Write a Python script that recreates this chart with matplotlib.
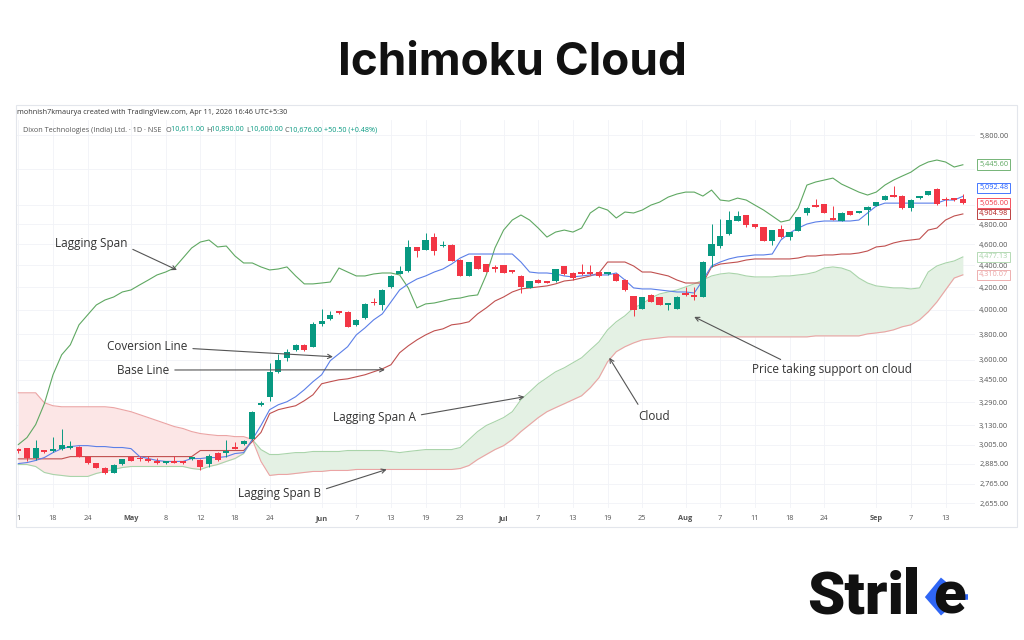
import numpy as np
import matplotlib.pyplot as plt
import matplotlib.transforms as mtransforms
from matplotlib.patches import Rectangle
from matplotlib.lines import Line2D
from matplotlib.ticker import NullLocator

W, H = 1024, 640

# daily candles (trading-day index 0..109)
opens = [2975, 2982, 2920, 2970, 2967, 2977, 2982, 2988, 2930, 2888,
         2862, 2832, 2884, 2930, 2918, 2913, 2897, 2888, 2903, 2894,
         2913, 2909, 2884, 2955, 2951, 2984, 3009, 3040, 3268, 3328,
         3508, 3613, 3675, 3712, 3700, 3884, 3925, 3990, 3983, 3875,
         3932, 4062, 4045, 4200, 4320, 4345, 4570, 4545, 4675, 4578,
         4595, 4450, 4300, 4485, 4410, 4368, 4400, 4342, 4300, 4195,
         4263, 4250, 4250, 4390, 4330, 4322, 4322, 4335, 4318, 4320,
         4263, 4120, 4010, 4130, 4110, 4043, 4010, 4146, 4130, 4115,
         4490, 4580, 4700, 4835, 4890, 4800, 4770, 4635, 4755, 4675,
         4735, 4915, 4995, 5005, 4858, 4835, 4935, 4920, 4945, 4990,
         5055, 5110, 5100, 4970, 5070, 5110, 5175, 5055, 5058, 5065]
closes = [2965, 2920, 2982, 2957, 2976, 3003, 2990, 2930, 2892, 2862,
          2832, 2878, 2913, 2905, 2912, 2901, 2893, 2901, 2893, 2890,
          2917, 2865, 2936, 2909, 2962, 2980, 3030, 3224, 3280, 3508,
          3597, 3657, 3710, 3676, 3880, 3910, 3960, 3975, 3860, 3916,
          4050, 4056, 4175, 4300, 4345, 4570, 4530, 4641, 4530, 4584,
          4440, 4300, 4425, 4365, 4340, 4362, 4330, 4338, 4200, 4250,
          4240, 4237, 4360, 4315, 4285, 4318, 4318, 4300, 4322, 4255,
          4170, 4000, 4110, 4070, 4045, 4048, 4115, 4130, 4115, 4430,
          4600, 4680, 4842, 4880, 4790, 4770, 4635, 4740, 4670, 4720,
          4870, 4970, 4978, 4920, 4842, 4920, 4895, 4935, 4980, 5030,
          5100, 5090, 4970, 5055, 5095, 5150, 5005, 5048, 5052, 5020]
highs = [2985, 2985, 3035, 2972, 3052, 3110, 3030, 2995, 2935, 2892,
         2866, 2882, 2918, 2935, 2935, 2935, 2920, 2905, 2935, 2900,
         2925, 2912, 2945, 2960, 3035, 3024, 3035, 3230, 3295, 3572,
         3640, 3680, 3720, 3718, 3900, 4010, 3990, 3995, 3988, 3922,
         4060, 4105, 4185, 4310, 4390, 4641, 4575, 4715, 4715, 4630,
         4600, 4455, 4430, 4490, 4415, 4400, 4405, 4350, 4305, 4255,
         4268, 4255, 4365, 4395, 4335, 4412, 4400, 4340, 4330, 4325,
         4268, 4125, 4115, 4135, 4115, 4058, 4120, 4200, 4200, 4440,
         4800, 4850, 4935, 4935, 4895, 4805, 4775, 4745, 4790, 4725,
         4875, 4975, 5060, 5010, 4990, 4925, 4940, 4940, 4985, 5035,
         5105, 5200, 5105, 5060, 5100, 5155, 5180, 5085, 5065, 5120]
lows = [2955, 2905, 2910, 2952, 2960, 2970, 2975, 2925, 2885, 2858,
        2825, 2828, 2880, 2900, 2900, 2896, 2885, 2884, 2888, 2885,
        2906, 2845, 2865, 2905, 2930, 2976, 3005, 3035, 3260, 3295,
        3500, 3590, 3668, 3670, 3695, 3870, 3920, 3970, 3855, 3870,
        3925, 4045, 4000, 4195, 4315, 4340, 4480, 4540, 4500, 4570,
        4435, 4295, 4295, 4360, 4335, 4340, 4325, 4330, 4146, 4190,
        4236, 4232, 4245, 4310, 4260, 4310, 4312, 4290, 4310, 4250,
        4165, 3950, 4005, 4065, 4040, 4000, 4005, 4120, 4090, 4110,
        4380, 4560, 4690, 4830, 4770, 4765, 4630, 4590, 4665, 4640,
        4730, 4890, 4975, 4915, 4838, 4830, 4890, 4915, 4790, 4985,
        5050, 5085, 4960, 4940, 5065, 5105, 5000, 4985, 5045, 5015]

# ichimoku lines, one value per bar
conversion = [2887, 2893, 2906, 2924, 2955, 2980, 2993, 2999, 2999, 2993,
              2993, 2987, 2987, 2980, 2930, 2918, 2906, 2900, 2900, 2900,
              2918, 2918, 2924, 2924, 2930, 2949, 2955, 3038, 3130, 3237,
              3271, 3292, 3327, 3377, 3435, 3486, 3592, 3645, 3700, 3794,
              3851, 3917, 3967, 4069, 4174, 4228, 4272, 4300, 4336, 4364,
              4410, 4467, 4505, 4505, 4505, 4505, 4505, 4505, 4429, 4336,
              4327, 4327, 4318, 4300, 4291, 4300, 4309, 4309, 4309, 4327,
              4263, 4192, 4183, 4183, 4174, 4165, 4156, 4156, 4147, 4263,
              4392, 4429, 4458, 4477, 4486, 4496, 4496, 4505, 4641, 4710,
              4760, 4801, 4822, 4832, 4832, 4832, 4832, 4842, 4915, 4988,
              5019, 5019, 5019, 5019, 5019, 5019, 5019, 5052, 5052, 5092]
base = [2916, 2916, 2916, 2916, 2916, 2916, 2930, 2930, 2930, 2930,
        2930, 2930, 2930, 2930, 2930, 2930, 2930, 2930, 2930, 2930,
        2930, 2968, 2968, 2968, 2968, 2968, 2968, 3025, 3084, 3210,
        3237, 3251, 3264, 3299, 3341, 3420, 3435, 3449, 3456, 3471,
        3486, 3508, 3530, 3561, 3653, 3707, 3754, 3794, 3827, 3843,
        3876, 3885, 3901, 3967, 4018, 4077, 4112, 4156, 4183, 4192,
        4201, 4210, 4228, 4254, 4263, 4281, 4300, 4327, 4429, 4429,
        4429, 4392, 4336, 4336, 4318, 4300, 4263, 4236, 4236, 4236,
        4383, 4410, 4420, 4429, 4448, 4458, 4458, 4458, 4458, 4458,
        4467, 4486, 4486, 4496, 4496, 4505, 4505, 4515, 4534, 4573,
        4582, 4612, 4631, 4641, 4651, 4740, 4760, 4842, 4884, 4905]
lagging = [3006, 3051, 3136, 3278, 3486, 3637, 3715, 3876, 3959, 4043,
           4086, 4112, 4156, 4174, 4219, 4263, 4309, 4336, 4373, 4467,
           4563, 4621, 4641, 4573, 4582, 4486, 4420, 4420, 4383, 4355,
           4364, 4383, 4300, 4228, 4228, 4236, 4245, 4373, 4336, 4300,
           4300, 4318, 4327, 4327, 4309, 4192, 4018, 4052, 4060, 4077,
           4095, 4103, 4121, 4130, 4309, 4563, 4740, 4842, 4894, 4842,
           4760, 4670, 4720, 4740, 4720, 4760, 4915, 4977, 4946, 4863,
           4925, 4915, 4946, 4998, 5030, 5084, 5117, 5138, 5138, 5095,
           5160, 5052, 5041, 5073, 5052, 4998, 4946, 4884, 4822, 4842,
           4967, 5215, 5249, 5271, 5293, 5226, 5182, 5138, 5106, 5138,
           5215, 5271, 5316, 5360, 5430, 5477, 5500, 5477, 5419, 5445]
span_a = [2881, 2881, 2869, 2833, 2821, 2815, 2809, 2809, 2809, 2827,
          2839, 2851, 2863, 2869, 2869, 2869, 2869, 2869, 2869, 2869,
          2857, 2851, 2869, 2881, 2900, 2918, 2949, 3038, 2974, 2943,
          2943, 2949, 2955, 2955, 2962, 2962, 2962, 2962, 2968, 2968,
          2968, 2968, 2968, 2962, 2955, 2962, 2968, 2974, 2974, 2974,
          2974, 2987, 3038, 3090, 3130, 3156, 3183, 3223, 3306, 3362,
          3420, 3464, 3508, 3538, 3576, 3614, 3676, 3738, 3835, 3901,
          3951, 4018, 4052, 4103, 4139, 4156, 4174, 4201, 4228, 4263,
          4300, 4318, 4327, 4318, 4300, 4291, 4291, 4291, 4300, 4300,
          4309, 4318, 4336, 4373, 4383, 4373, 4345, 4281, 4236, 4210,
          4201, 4192, 4192, 4183, 4192, 4336, 4392, 4420, 4439, 4477]
span_b = [3355, 3355, 3355, 3285, 3264, 3257, 3257, 3257, 3257, 3257,
          3257, 3251, 3237, 3223, 3203, 3183, 3163, 3143, 3123, 3110,
          3090, 3077, 3070, 3064, 3064, 3057, 3057, 3038, 2900, 2815,
          2821, 2821, 2827, 2833, 2839, 2839, 2845, 2845, 2845, 2851,
          2851, 2851, 2851, 2851, 2851, 2851, 2851, 2851, 2851, 2851,
          2851, 2857, 2875, 2912, 2943, 2974, 2999, 3038, 3090, 3136,
          3183, 3223, 3251, 3278, 3306, 3334, 3391, 3464, 3584, 3661,
          3700, 3730, 3754, 3762, 3770, 3778, 3778, 3778, 3778, 3778,
          3778, 3778, 3778, 3778, 3778, 3778, 3778, 3778, 3778, 3778,
          3778, 3778, 3786, 3786, 3786, 3786, 3786, 3786, 3802, 3810,
          3819, 3835, 3860, 3876, 3917, 3984, 4069, 4174, 4281, 4310]

price_ticks = [5800, 5400, 5000, 4800, 4600, 4400, 4200, 4000, 3800, 3600,
               3450, 3290, 3130, 3005, 2885, 2765, 2655]
# labels hidden behind the price tags in the original
hidden_ticks = [5400, 5000]
date_ticks = [0, 4, 8, 13, 17, 21, 25, 29, 35, 39, 43, 47, 51, 56, 60, 64,
              68, 72, 77, 81, 85, 89, 93, 99, 103, 107]
date_labels = ["1", "18", "24", "May", "8", "12", "18", "24", "Jun", "7", "13",
               "19", "23", "Jul", "7", "13", "19", "25", "Aug", "7", "11",
               "18", "24", "Sep", "7", "13"]

tag_values = [5445.60, 5092.48, 5056.00, 4904.98, 4477.13, 4310.07]

GREEN = "#089981"
RED = "#f23645"
C_CONV = "#5b7fe8"
C_BASE = "#c0504f"
C_LAG = "#5fa862"
C_SA = "#a9d4aa"
C_SB = "#eba4a4"

plt.rcParams['font.family'] = ['Open Sans', 'DejaVu Sans']

fig = plt.figure(figsize=(W / 100, H / 100), dpi=100)
fig.patch.set_facecolor("white")


def fx(px):
    return px / W


def fy(py):
    return 1 - py / H


ax = fig.add_axes([fx(16), fy(508), (975 - 16) / W, (508 - 120) / H])
ax.set_yscale("log")
ax.set_ylim(2627, 5988)
ax.set_xlim(-0.27, 110.4)

idx = np.arange(len(opens))
o = np.array(opens, float)
c = np.array(closes, float)
hi = np.array(highs, float)
lo = np.array(lows, float)

# cloud
sa = np.array(span_a, float)
sb = np.array(span_b, float)
ax.fill_between(idx, sa, sb, where=sa >= sb, interpolate=True,
                color="#e4f1e4", lw=0, zorder=1)
ax.fill_between(idx, sa, sb, where=sb >= sa, interpolate=True,
                color="#fce6e6", lw=0, zorder=1)
ax.plot(idx, sa, color=C_SA, lw=0.8, zorder=2)
ax.plot(idx, sb, color=C_SB, lw=0.8, zorder=2)

# lines
ax.plot(idx, lagging, color=C_LAG, lw=0.8, zorder=3)
ax.plot(idx, base, color=C_BASE, lw=0.8, zorder=3)
ax.plot(idx, conversion, color=C_CONV, lw=0.8, zorder=3)

# candles
cols = np.where(c >= o, GREEN, RED)
ax.vlines(idx, lo, hi, colors=cols, lw=0.7, zorder=4)
b_lo = np.minimum(o, c)
b_hi = np.maximum(np.maximum(o, c), b_lo * 1.004)
ax.bar(idx, b_hi - b_lo, bottom=b_lo, width=0.72, color=cols, lw=0, zorder=5)

# axes styling
for s in ax.spines.values():
    s.set_visible(False)
ax.yaxis.tick_right()
ax.set_yticks(price_ticks)
ax.yaxis.set_minor_locator(NullLocator())
ax.set_yticklabels(["" if v in hidden_ticks else f"{v:,.2f}" for v in price_ticks])
ax.set_xticks(date_ticks)
ax.set_xticklabels(date_labels)
for lab in ax.get_xticklabels():
    if lab.get_text() in ("May", "Jun", "Jul", "Aug", "Sep"):
        lab.set_fontweight("bold")
ax.tick_params(axis="y", length=0, pad=3, labelsize=5.3, labelcolor="#555555")
ax.tick_params(axis="x", length=0, pad=5, labelsize=5.3, labelcolor="#555555")
ax.grid(True, color="#f1f3f7", lw=0.6)
ax.set_axisbelow(True)

# price tags on the scale
trans = mtransforms.blended_transform_factory(ax.transAxes, ax.transData)
tag_cols = [C_LAG, "#2962ff", RED, "#b22222", C_SA, C_SB]
tag_dy = [0, 6, -2.5, 0, 0, 0]
for v, col, dy in zip(tag_values, tag_cols, tag_dy):
    ax.annotate(f"{v:,.2f}", xy=(1.0, v), xycoords=trans,
                xytext=(3, dy), textcoords="offset points",
                ha="left", va="center", fontsize=5.3, color=col,
                bbox=dict(boxstyle="square,pad=0.25", fc="white", ec=col, lw=0.6),
                annotation_clip=False, zorder=10)

# annotations (text positions in figure pixels, tips in data)
notes = [
    ("Lagging Span", (18.3, 4355), (55, 243), (1.0, 0.2)),
    ("Coversion Line", (36.3, 3622), (107, 347), (1.0, 0.4)),
    ("Base Line", (42.3, 3523), (117, 370), (1.0, 0.5)),
    ("Lagging Span A", (58.4, 3327), (333, 417), (1.0, 0.6)),
    ("Lagging Span B", (42.5, 2851), (238, 493), (1.0, 0.7)),
    ("Cloud", (68.2, 3614), (638, 416), (0.1, 1.0)),
    ("Price taking support on cloud", (78.0, 3942), (752, 370), (0.23, 1.0)),
]
for text, tip, (tx, ty), rp in notes:
    ax.annotate(text, xy=tip, xycoords="data",
                xytext=(tx, H - ty), textcoords="figure pixels",
                ha="left", va="center", fontsize=8.5, color="#333333",
                arrowprops=dict(arrowstyle="->,head_length=0.35,head_width=0.18",
                                color="#555555", lw=0.8, relpos=rp,
                                shrinkA=2, shrinkB=0),
                annotation_clip=False, zorder=11)

# tradingview panel frame and header
fig.add_artist(Rectangle((fx(16), fy(527)), (1017 - 16) / W, (527 - 105) / H,
                         transform=fig.transFigure, fill=False,
                         ec="#e3e6ec", lw=0.8))
fig.text(fx(17), fy(113),
         "mohnish7kmaurya created with TradingView.com, Apr 11, 2026 16:46 UTC+5:30",
         fontsize=5.2, color="#333333", va="center")

renderer = fig.canvas.get_renderer()
pieces = [("Dixon Technologies (India) Ltd. · 1D · NSE  ", "#555555"),
          ("O", "#555555"), ("10,611.00 ", GREEN),
          ("H", "#555555"), ("10,890.00 ", GREEN),
          ("L", "#555555"), ("10,600.00 ", GREEN),
          ("C", "#555555"), ("10,676.00 +50.50 (+0.48%)", GREEN)]
xpos = 23
for s, col in pieces:
    t = fig.text(fx(xpos), fy(130), s, fontsize=5.2, color=col, va="center")
    xpos = t.get_window_extent(renderer).x1

# title
fig.text(0.5, fy(63), "Ichimoku Cloud", ha="center", va="center",
         fontsize=33, fontweight="bold", family=["Inter", "DejaVu Sans"],
         color="#111111")

# Strike logo
BLUE = "#2f66f5"
LOGO_FONT = dict(fontsize=43, fontweight="black",
                 family=["Roboto", "DejaVu Sans"], color="#111111",
                 ha="left", va="baseline")
t1 = fig.text(fx(807), fy(614), "Stri", **LOGO_FONT)
x1 = t1.get_window_extent(renderer).x1
fig.add_artist(Rectangle((fx(x1 + 2), fy(614)), 11 / W, 47 / H,
                         transform=fig.transFigure, color="#111111", lw=0))
te = fig.text(fx(x1 + 29), fy(614), "e", **LOGO_FONT)
xe = te.get_window_extent(renderer).x1
fig.add_artist(Line2D([fx(x1 + 40), fx(x1 + 26), fx(x1 + 40)],
                      [fy(580), fy(597), fy(613)], transform=fig.transFigure,
                      color=BLUE, lw=5.5, solid_joinstyle="miter",
                      solid_capstyle="butt"))
fig.add_artist(Line2D([fx(x1 + 27), fx(xe + 2)], [fy(597), fy(597)],
                      transform=fig.transFigure, color=BLUE, lw=4,
                      solid_capstyle="butt"))

fig.savefig("out.png", dpi=100, facecolor="white")
